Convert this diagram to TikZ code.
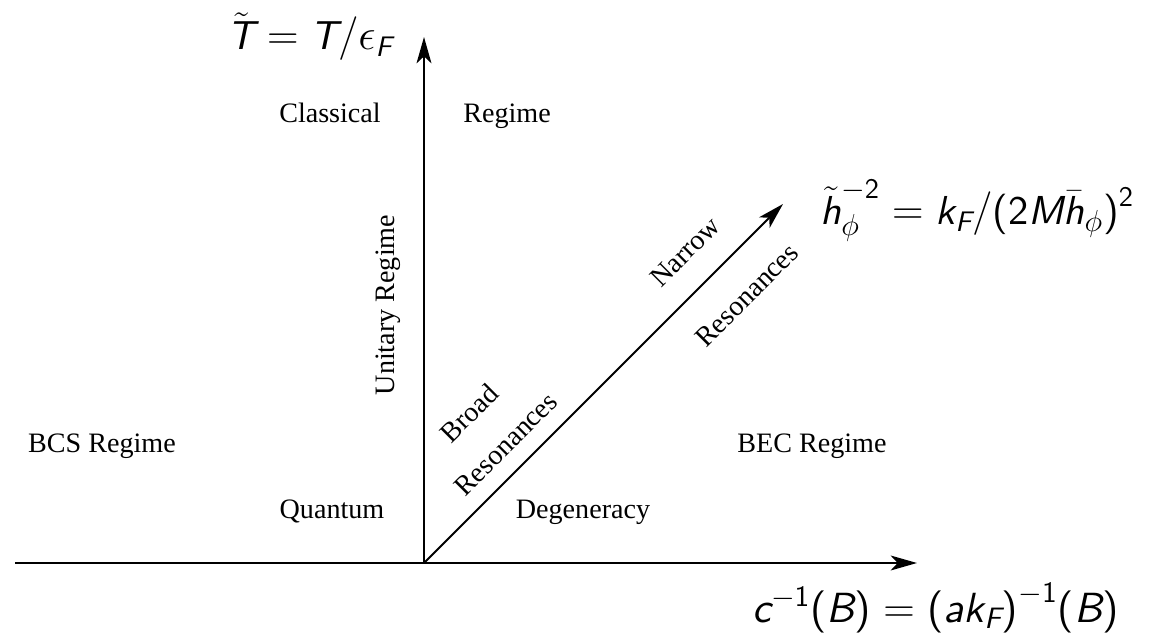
\documentclass[tikz,border=0pt]{standalone}
\usepackage{amsmath}
\usepackage{fontspec}
\setmainfont{Liberation Serif}
\newfontfamily\axsf{lmsans10-regular.otf}[ItalicFont=lmsans10-oblique.otf,SlantedFont=lmsans10-oblique.otf]
\usetikzlibrary{arrows.meta}

% sans letters inside math
\newcommand{\sfi}[1]{\text{\axsf\itshape #1}}
\newcommand{\sfu}[1]{\text{\axsf #1}}

\tikzset{
  axis/.style={line width=1.1pt,-{Stealth[length=15pt,width=8.5pt,inset=4pt]}},
  regime/.style={font=\fontsize{16}{18}\selectfont},
  axlabel/.style={font=\fontsize{23}{27}\selectfont,inner sep=0pt}
}

\begin{document}
\begin{tikzpicture}[x=0.02cm,y=-0.02cm]
        \useasboundingbox (0,0) rectangle (1149,638);
        \coordinate (O) at (424,563);
        \coordinate (W) at (15,563);
        \coordinate (E) at (917,563);
        \coordinate (N) at (424,37);
        \coordinate (D) at (783,204);
        \draw[axis] (W)--(E);
        \draw[axis] (O)--(N);
        \draw[axis] (O)--(D);
        \node[axlabel,anchor=base east] (Tlab) at (393,50) {$\tilde{\sfi{T}}=\sfi{T}/\epsilon_{\sfi{F}}$};
        \node[axlabel,anchor=base west] (hlab) at (820,225) {$\tilde{\sfi{h}}_{\phi}^{-\sfu{2}}=\sfi{k}_{\sfi{F}}/\sfu{(}\sfu{2}\sfi{M}\bar{\sfi{h}}_{\phi}\sfu{)}^{\sfu{2}}$};
        \node[axlabel,font=\fontsize{24}{28}\selectfont,anchor=base west] (clab) at (752,622) {$\sfi{c}^{-\sfu{1}}\sfu{(}\sfi{B}\sfu{)}=\sfu{(}\sfi{ak}_{\sfi{F}}\sfu{)}^{-\sfu{1}}\sfu{(}\sfi{B}\sfu{)}$};
        \node[regime,anchor=base] (cl) at (330,123) {Classical};
        \node[regime,anchor=base] (rg) at (507,123) {Regime};
        \node[regime,rotate=90] (un) at (388,305) {Unitary Regime};
        \node[regime,rotate=45] (na) at (685,252) {Narrow};
        \node[regime,rotate=45] (nr) at (747,295) {Resonances};
        \node[regime,rotate=45] (br) at (469,413) {Broad};
        \node[regime,rotate=45] (brr) at (506,444) {Resonances};
        \node[regime,anchor=base] (bcs) at (102,452) {BCS Regime};
        \node[regime,anchor=base] (bec) at (812,452) {BEC Regime};
        \node[regime,anchor=base] (qu) at (332,518) {Quantum};
        \node[regime,anchor=base] (dg) at (583,518) {Degeneracy};
\end{tikzpicture}
\end{document}
